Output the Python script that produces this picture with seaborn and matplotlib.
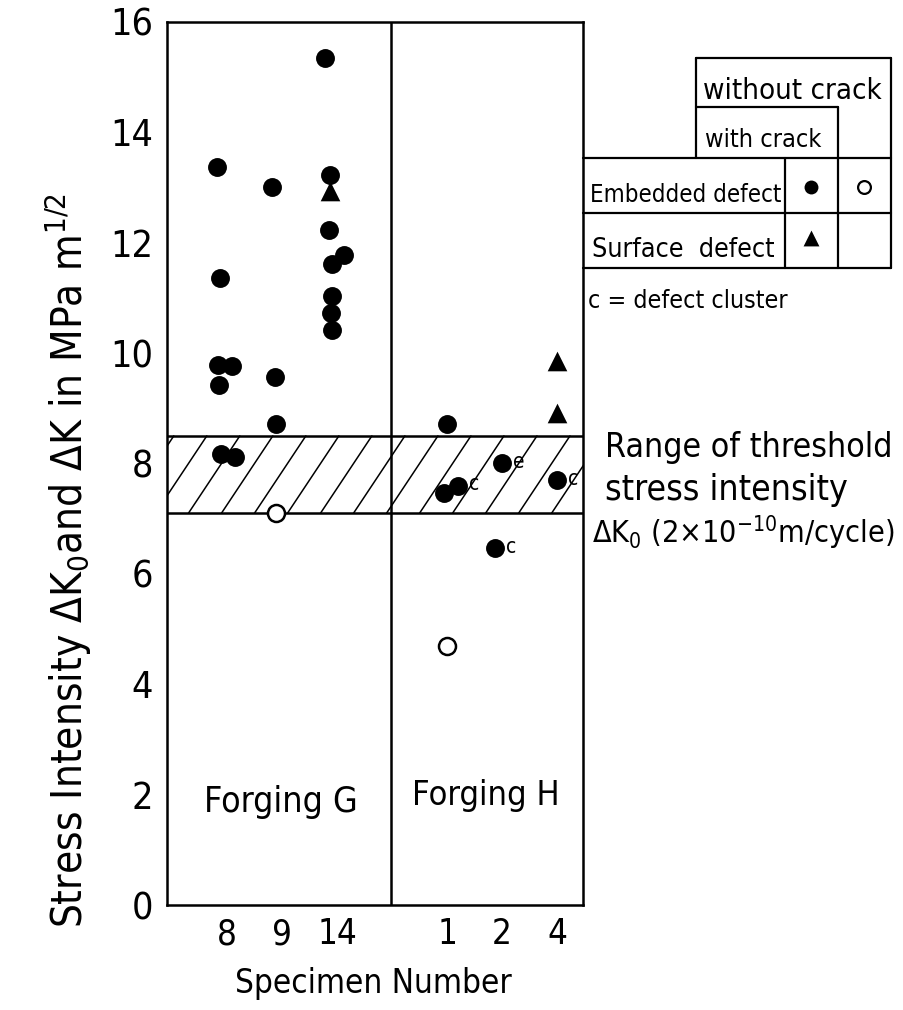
import numpy as np
import pandas as pd
import matplotlib
matplotlib.use("Agg")
import matplotlib.pyplot as plt
import seaborn as sns
from matplotlib import font_manager as fm

# ---------------- data ----------------
tick_pos = [1, 2, 3, 5, 6, 7]
tick_labels = ["8", "9", "14", "1", "2", "4"]
divider_x = 3.98

# Forging G
g_fill_x = [2.79, 0.82, 1.82, 2.87, 2.85, 3.13, 2.90, 0.87, 2.90, 2.89, 2.90, 0.84, 1.09, 0.86, 1.87, 1.89, 0.89, 1.15]
g_fill_y = [15.35, 13.38, 13.01, 13.22, 12.24, 11.78, 11.62, 11.36, 11.04, 10.73, 10.42, 9.78, 9.76, 9.42, 9.56, 8.71, 8.17, 8.11]
g_tri_x = [2.87]
g_tri_y = [12.93]
g_open_x = [1.89]
g_open_y = [7.11]

# Forging H
h_fill_x = [4.99, 4.94, 5.20, 6.00, 6.99, 5.87]
h_fill_y = [8.72, 7.46, 7.60, 8.01, 7.70, 6.46]
h_fill_note = ["", "", "c", "e", "c", "c"]
h_tri_x = [6.99, 7.00]
h_tri_y = [9.85, 8.92]
h_open_x = [5.00]
h_open_y = [4.70]

band_lo, band_hi = 7.1, 8.5

# ---------------- style ----------------
sns.set_theme(style="white")
fl = fm.fontManager.ttflist
names = {f.name for f in fl}
stretch = "normal"
if "Liberation Sans Narrow" in names:
    FONT = "Liberation Sans Narrow"
elif any(f.name == "DejaVu Sans" and str(f.stretch) in ("condensed", "semi-condensed", "75", "87.5") for f in fl):
    FONT = "DejaVu Sans"
    stretch = "condensed"
elif "Roboto" in names:
    FONT = "Roboto"
else:
    FONT = "DejaVu Sans"
plt.rcParams["font.family"] = [FONT, "DejaVu Sans"]
plt.rcParams["font.stretch"] = stretch
plt.rcParams["mathtext.fontset"] = "custom"
plt.rcParams["mathtext.rm"] = FONT
plt.rcParams["mathtext.it"] = FONT
plt.rcParams["mathtext.bf"] = FONT
for k in ("text.color", "axes.labelcolor", "xtick.color", "ytick.color", "axes.edgecolor"):
    plt.rcParams[k] = "black"

W, H = 904, 1010
fig = plt.figure(figsize=(W / 100, H / 100), dpi=100)
fig.patch.set_facecolor("white")
ax = fig.add_axes([167 / W, 105 / H, 416 / W, 883 / H])
ax.set_facecolor("white")

filled = pd.DataFrame({"x": g_fill_x + h_fill_x, "y": g_fill_y + h_fill_y})
tri = pd.DataFrame({"x": g_tri_x + h_tri_x, "y": g_tri_y + h_tri_y})
opened = pd.DataFrame({"x": g_open_x + h_open_x, "y": g_open_y + h_open_y})

# band with hatching
for yv in (band_lo, band_hi):
    ax.axhline(yv, color="black", lw=1.8, zorder=2)
slope = 1.5
dx_band = (band_hi - band_lo) / slope
for x0 in np.arange(-1.5, 8.0, 0.6):
    ax.plot([x0, x0 + dx_band], [band_lo, band_hi], color="black", lw=1.1, zorder=1)

ax.axvline(divider_x, color="black", lw=1.8, zorder=2)

sns.scatterplot(data=filled, x="x", y="y", ax=ax, marker="o", s=185,
                color="black", edgecolor="black", linewidth=0, zorder=4, legend=False)
sns.scatterplot(data=tri, x="x", y="y", ax=ax, marker="^", s=200,
                color="black", edgecolor="black", linewidth=0, zorder=4, legend=False)
sns.scatterplot(data=opened, x="x", y="y", ax=ax, marker="o", s=150,
                facecolor="white", edgecolor="black", linewidth=1.8, zorder=5, legend=False)

for xv, yv, note in zip(h_fill_x, h_fill_y, h_fill_note):
    if note:
        ax.annotate(note, (xv, yv), xytext=(8, 1), textcoords="offset points",
                    fontsize=15, va="center", ha="left", zorder=6)

ax.set_xlim(-0.09, 7.47)
ax.set_ylim(0, 16)
ax.set_xticks(tick_pos)
ax.set_xticklabels(tick_labels)
ax.set_yticks(np.arange(0, 17, 2))
ax.set_yticklabels([str(v) for v in range(0, 17, 2)])
ax.tick_params(axis="y", direction="in", length=10, width=1.8, labelsize=27, pad=10, colors="black")
ax.tick_params(axis="x", direction="in", length=17, width=1.8, labelsize=25, pad=9, colors="black")
ax.set_xlabel("")
ax.set_ylabel("")
for sp in ax.spines.values():
    sp.set_visible(True)
    sp.set_color("black")
    sp.set_linewidth(1.8)

fit = []  # (text, target size in px, use height)
fit.append((ax.text(0.58, 1.87, "Forging G", fontsize=25, ha="left", va="center"), 155, False))
fit.append((ax.text(4.36, 1.99, "Forging H", fontsize=25, ha="left", va="center"), 149, False))

# axis labels
fit.append((fig.text(373 / W, 1 - 983 / H, "Specimen Number", fontsize=24, ha="center", va="center"), 277, False))
fit.append((fig.text(68 / W, 1 - 560 / H,
                     r"Stress Intensity $\mathrm{\Delta K_0}$and $\mathrm{\Delta K}$ in MPa m$^{1/2}$",
                     fontsize=26, rotation=90, ha="center", va="center"), 735, True))

# right-hand annotation
fit.append((fig.text(605 / W, 1 - 447 / H, "Range of threshold", fontsize=27, ha="left", va="center"), 288, False))
fit.append((fig.text(605 / W, 1 - 490 / H, "stress intensity", fontsize=27, ha="left", va="center"), 243, False))
fit.append((fig.text(592 / W, 1 - 533 / H, r"$\mathrm{\Delta K_0}$ (2×10$^{-10}$m/cycle)", fontsize=27,
                     ha="left", va="center"), 302, False))

# ---------------- legend table (pixel overlay) ----------------
ov = fig.add_axes([0, 0, 1, 1], zorder=10)
ov.set_xlim(0, W)
ov.set_ylim(H, 0)
ov.axis("off")
ov.patch.set_alpha(0)

L, C1, C2, R = 583, 785, 838, 891
T_hdr1, T_hdr2, T_tab, T_row, T_bot = 58, 107, 158, 213, 268
HX = 696
lw_t = 1.6
segs = [
    ((HX, T_hdr1), (R, T_hdr1)),
    ((HX, T_hdr2), (C2, T_hdr2)),
    ((HX, T_hdr1), (HX, T_tab)),
    ((L, T_tab), (R, T_tab)),
    ((L, T_row), (R, T_row)),
    ((L, T_bot), (R, T_bot)),
    ((C1, T_tab), (C1, T_bot)),
    ((C2, T_hdr2), (C2, T_bot)),
    ((R, T_hdr1), (R, T_bot)),
]
for (x1, y1), (x2, y2) in segs:
    ov.plot([x1, x2], [y1, y2], color="black", lw=lw_t)

fit.append((ov.text(703, 91, "without crack", fontsize=19, ha="left", va="center"), 178, False))
fit.append((ov.text(705, 140, "with crack", fontsize=19, ha="left", va="center"), 117, False))
fit.append((ov.text(590, 195, "Embedded defect", fontsize=19, ha="left", va="center"), 190, False))
fit.append((ov.text(592, 250, "Surface  defect", fontsize=19, ha="left", va="center"), 183, False))
fit.append((ov.text(588, 301, "c = defect cluster", fontsize=16, ha="left", va="center"), 200, False))
ov.scatter([811], [187], s=100, color="black", marker="o", linewidths=0)
ov.scatter([864], [187], s=85, facecolor="white", edgecolor="black", marker="o", linewidths=1.6)
ov.scatter([811], [238], s=130, color="black", marker="^", linewidths=0)

# scale texts to the measured extents of the reference
fig.canvas.draw()
rend = fig.canvas.get_renderer()
for t, target, use_h in fit:
    bb = t.get_window_extent(rend)
    cur = bb.height if use_h else bb.width
    if cur > 0:
        t.set_fontsize(t.get_fontsize() * target / cur)

fig.savefig("out.png", dpi=100, facecolor="white")
